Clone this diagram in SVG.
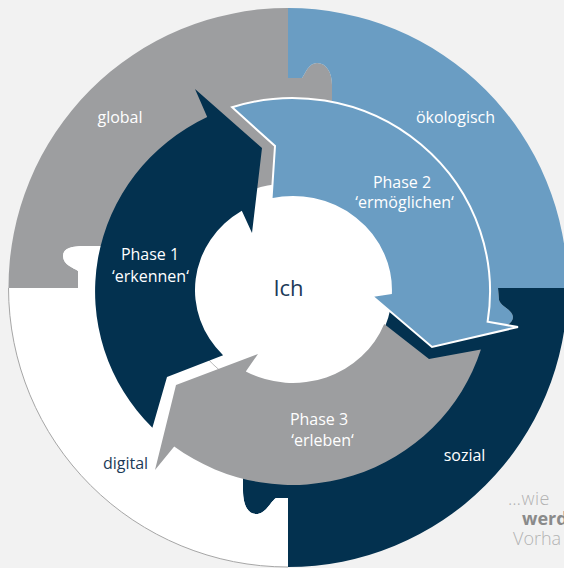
<svg xmlns="http://www.w3.org/2000/svg" width="564" height="568" viewBox="0 0 564 568">
  <style>
    .lbl { font-family: "Open Sans", "Noto Sans", "Liberation Sans", sans-serif; font-size: 16px; font-weight: 400; fill: #ffffff; text-anchor: middle; }
    .dark { fill: #1b3a58; }
    .side { font-family: "Open Sans", "Noto Sans", "Liberation Sans", sans-serif; font-size: 18px; font-weight: 300; fill: #b3b3b3; }
    .gray { fill: #9d9ea0; }
    .blue { fill: #6a9dc3; }
    .navy { fill: #03314f; }
  </style>
  <rect x="0" y="0" width="564" height="568" fill="#f2f2f2"/>

  <!-- outer ring quadrants (puzzle pieces) -->
  <g id="global">
    <path class="gray" d="M8.5,288 L78,288 L78,271 C74,268 63,265 63,256 C63,248 72,246 85,246 L104,246 L104,288 L288,288 L288,115 L332,115 L332,85 C332,72 326,63 317,63 C309,63 306,72 302,78 L288,78 L288,8 A279.5,279.5 0 0 0 8.5,288 Z"/>
    <text class="lbl" x="120" y="123">global</text>
  </g>
  <g id="oekologisch">
    <path class="blue" d="M288,288 L288,115 L332,115 L332,85 C332,72 326,63 317,63 C309,63 306,72 302,78 L288,78 L288,8 A279.5,279.5 0 0 1 567.5,288 L498,288 L499,300 C501,307 512,309 513,317 C513,320 511,322 509,324 L486,324 L486,288 Z"/>
    <text class="lbl" x="455.5" y="123">ökologisch</text>
  </g>
  <g id="sozial">
    <path class="navy" d="M288,288 L486,288 L486,324 L509,324 C511,322 513,320 513,317 C512,309 501,307 499,300 L498,288 L567.5,288 A279.5,279.5 0 0 1 288,567 L288,498 L276,498 C270,502 266,514 256,514 C247,514 243,503 243,490 L243,470 L288,470 Z"/>
    <text class="lbl" x="464.5" y="461">sozial</text>
  </g>
  <g id="digital">
    <path fill="#ffffff" d="M288,288 L288,470 L243,470 L243,490 C243,503 247,514 256,514 C266,514 270,502 276,498 L288,498 L288,567 A279.5,279.5 0 0 1 8.5,288 L78,288 L78,271 C74,268 63,265 63,256 C63,248 72,246 85,246 L104,246 L104,288 Z"/>
    <path d="M288,567 A279.5,279.5 0 0 1 8.5,288" fill="none" stroke="#a6a6a6" stroke-width="1"/>
    <path d="M288,395 A107,107 0 0 1 181,288" fill="none" stroke="#a6a6a6" stroke-width="0.8"/>
    <text class="lbl dark" x="125.5" y="469">digital</text>
  </g>

  <!-- centre -->
  <g id="ich">
    <circle cx="288" cy="288" r="104.5" fill="#ffffff"/>
    <text class="lbl dark" x="288.5" y="296" style="font-size:22px">Ich</text>
  </g>

  <!-- phase arrows -->
  <g id="phase1">
    <path class="navy" d="M152.4,427.8 A197.5,193.5 0 0 1 207.2,117 L195,89 L262,148 L252,233 L241.8,210.7 A98,93 0 0 0 223.1,355.2 L167,377 Z"/>
    <text class="lbl" x="150" y="260">Phase 1</text>
    <text class="lbl" x="150.5" y="282">‘erkennen‘</text>
  </g>
  <g id="phase2">
    <path class="blue" stroke="#ffffff" stroke-width="2" d="M232.1,107.3 A197.5,193.5 0 0 1 487.6,321.8 L518,327 L432,347 L372,296 L390.9,293.2 A98,93 0 0 0 271.5,199.3 L275,146 Z"/>
    <text class="lbl" x="402" y="188">Phase 2</text>
    <text class="lbl" x="404.5" y="208">‘ermöglichen‘</text>
  </g>
  <g id="phase3">
    <path class="gray" d="M480.9,349.4 A197.5,193.5 0 0 1 174.2,446.4 L155,470 L176,385 L258,354 L245.8,371.5 A98,93 0 0 0 384.2,323.9 L429,359 Z"/>
    <text class="lbl" x="319" y="425">Phase 3</text>
    <text class="lbl" x="322.5" y="446">‘erleben‘</text>
  </g>

  <g id="connectors"/>

  <!-- cut-off side text -->
  <g id="side-text">
    <text class="side" x="508" y="505" letter-spacing="0.5">…wie</text>
    <text class="side" x="522" y="525" style="font-weight:700;fill:#8a8a8a">werd</text>
    <text class="side" x="513" y="545">Vorha</text>
  </g>
</svg>
